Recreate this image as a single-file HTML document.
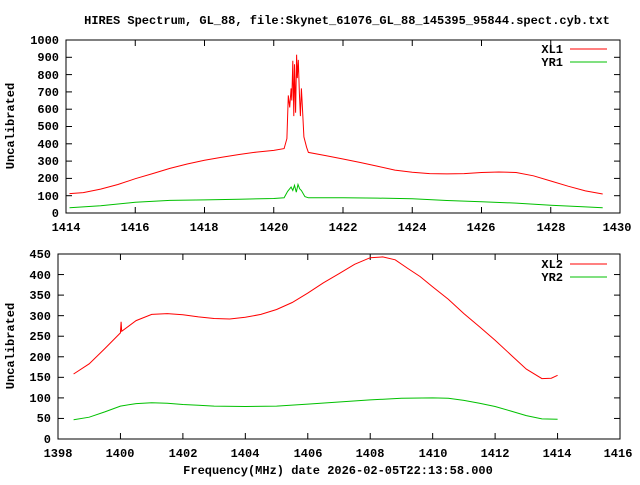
<!DOCTYPE html><html><head><style>body{margin:0;background:#fff}svg text{font-family:"Liberation Mono",monospace;font-weight:bold;font-size:12px;fill:#000}</style></head><body>
<svg id="s" width="640" height="480" xmlns="http://www.w3.org/2000/svg">
<rect width="640" height="480" fill="#fff"/>
<text x="347" y="24" text-anchor="middle">HIRES Spectrum, GL_88, file:Skynet_61076_GL_88_145395_95844.spect.cyb.txt</text>
<g text-anchor="end">
<text x="59" y="217">0</text><text x="59" y="200">100</text><text x="59" y="182">200</text><text x="59" y="165">300</text><text x="59" y="148">400</text><text x="59" y="130">500</text><text x="59" y="113">600</text><text x="59" y="96">700</text><text x="59" y="79">800</text><text x="59" y="61">900</text><text x="59" y="44">1000</text>
<text x="51" y="443">0</text><text x="51" y="422">50</text><text x="51" y="402">100</text><text x="51" y="381">150</text><text x="51" y="361">200</text><text x="51" y="340">250</text><text x="51" y="320">300</text><text x="51" y="299">350</text><text x="51" y="279">400</text><text x="51" y="258">450</text>
<text x="563" y="53">XL1</text><text x="563" y="66">YR1</text>
<text x="563" y="268">XL2</text><text x="563" y="281">YR2</text>
</g>
<g text-anchor="middle">
<text x="66" y="231">1414</text><text x="135" y="231">1416</text><text x="204" y="231">1418</text><text x="274" y="231">1420</text><text x="343" y="231">1422</text><text x="412" y="231">1424</text><text x="481" y="231">1426</text><text x="551" y="231">1428</text><text x="617" y="231">1430</text>
<text x="58" y="457">1398</text><text x="120" y="457">1400</text><text x="183" y="457">1402</text><text x="245" y="457">1404</text><text x="308" y="457">1406</text><text x="370" y="457">1408</text><text x="433" y="457">1410</text><text x="495" y="457">1412</text><text x="557" y="457">1414</text><text x="618" y="457">1416</text>
<text x="338" y="474">Frequency(MHz) date 2026-02-05T22:13:58.000</text>
<text transform="translate(14,126) rotate(-90)">Uncalibrated</text>
<text transform="translate(14,346) rotate(-90)">Uncalibrated</text>
</g>
<line x1="570" y1="49" x2="607" y2="49" stroke="#f00"/><line x1="570" y1="62" x2="607" y2="62" stroke="#00c000"/>
<line x1="570" y1="264" x2="607" y2="264" stroke="#f00"/><line x1="570" y1="277" x2="607" y2="277" stroke="#00c000"/>
<g id="g"></g>
</svg>
<script>
var g=document.getElementById('g'),h='';
function P(L,x0,x1,px0,px1,y0,y1,py0,py1){return{x:v=>px0+(v-x0)*(px1-px0)/(x1-x0),y:v=>py0+(v-y0)*(py1-py0)/(y1-y0),L:L}}
var A=P(0,1414,1430,66,620,0,1000,213,40),B=P(0,1398,1416,58,620,0,450,439,254);
function frame(p,xt,yt,x0,x1,y0,y1){var l=p.x(x0),r=p.x(x1),t=p.y(y1),b=p.y(y0);
h+='<rect x="'+l+'" y="'+t+'" width="'+(r-l)+'" height="'+(b-t)+'" fill="none" stroke="#000"/>';
xt.forEach(v=>{var x=p.x(v);h+='<line x1="'+x+'" y1="'+b+'" x2="'+x+'" y2="'+(b-6)+'" stroke="#000"/><line x1="'+x+'" y1="'+t+'" x2="'+x+'" y2="'+(t+6)+'" stroke="#000"/>'});
yt.forEach(v=>{var y=p.y(v);h+='<line x1="'+l+'" y1="'+y+'" x2="'+(l+6)+'" y2="'+y+'" stroke="#000"/><line x1="'+r+'" y1="'+y+'" x2="'+(r-6)+'" y2="'+y+'" stroke="#000"/>'});}
function rng(a,b,s){var r=[];for(var v=a;v<=b+1e-9;v+=s)r.push(v);return r}
frame(A,rng(1414,1430,2),rng(0,1000,100),1414,1430,0,1000);
frame(B,rng(1398,1416,2),rng(0,450,50),1398,1416,0,450);
function line(p,pts,c){var s=pts.map(q=>p.x(q[0]).toFixed(1)+','+p.y(q[1]).toFixed(1)).join(' ');h+='<polyline points="'+s+'" fill="none" stroke="'+c+'"/>'}
line(A,[[1414.1,112],[1414.5,118],[1415,138],[1415.5,165],[1416,198],[1416.5,228],[1417,258],[1417.5,283],[1418,305],[1418.5,322],[1419,338],[1419.5,352],[1420,362],[1420.3,372],[1420.38,430],[1420.42,680],[1420.46,610],[1420.5,720],[1420.52,650],[1420.55,880],[1420.58,560],[1420.6,860],[1420.63,580],[1420.66,915],[1420.68,780],[1420.71,885],[1420.74,690],[1420.77,560],[1420.8,720],[1420.83,600],[1420.87,440],[1420.95,380],[1421,350],[1421.5,332],[1422,312],[1422.5,292],[1423,270],[1423.5,248],[1424,235],[1424.5,228],[1425,226],[1425.5,228],[1426,234],[1426.5,237],[1427,234],[1427.5,215],[1428,185],[1428.5,155],[1429,128],[1429.5,110]],'#f00');
line(A,[[1414.1,30],[1415,42],[1416,62],[1417,73],[1418,76],[1419,80],[1420,84],[1420.3,88],[1420.4,125],[1420.5,150],[1420.55,130],[1420.6,160],[1420.65,120],[1420.7,165],[1420.75,140],[1420.8,130],[1420.9,95],[1421,88],[1422,88],[1423,86],[1424,82],[1425,72],[1426,65],[1427,57],[1428,45],[1429,35],[1429.5,30]],'#00c000');
line(B,[[1398.5,158],[1399,183],[1399.5,220],[1400,258],[1400.02,285],[1400.04,262],[1400.5,288],[1401,303],[1401.5,305],[1402,302],[1402.5,297],[1403,293],[1403.5,292],[1404,296],[1404.5,303],[1405,315],[1405.5,332],[1406,355],[1406.5,380],[1407,402],[1407.5,425],[1408,441],[1408.4,443],[1408.8,436],[1409.2,415],[1409.6,395],[1410,370],[1410.5,340],[1411,305],[1411.5,273],[1412,240],[1412.5,205],[1413,170],[1413.5,147],[1413.8,148],[1414,155]],'#f00');
line(B,[[1398.5,47],[1399,53],[1399.5,66],[1400,80],[1400.5,86],[1401,88],[1401.5,87],[1402,84],[1402.5,82],[1403,80],[1404,79],[1405,80],[1406,85],[1407,90],[1408,95],[1409,99],[1410,100],[1410.5,99],[1411,94],[1411.5,87],[1412,79],[1412.5,68],[1413,57],[1413.5,49],[1414,48]],'#00c000');
g.innerHTML=h;
</script></body></html>
